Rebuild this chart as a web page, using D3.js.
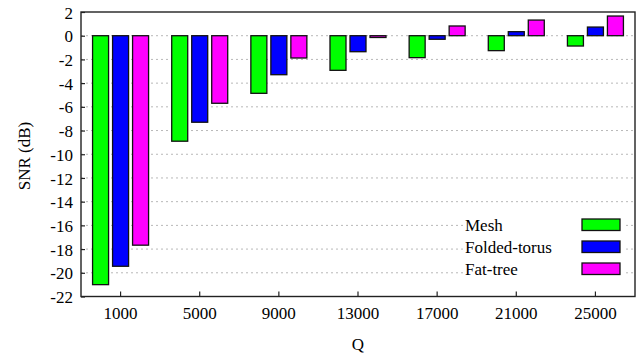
<!DOCTYPE html>
<html>
<head>
<meta charset="utf-8">
<script src="https://cdn.jsdelivr.net/npm/d3@7"></script>
<style>
  body { margin: 0; background: #fff; }
  svg text { font-family: "Liberation Serif", "Times New Roman", Times, "Tinos", "DejaVu Serif", "Noto Serif", serif !important; }
</style>
</head>
<body>
<svg id="chart" width="639" height="358"></svg>
<script>
// chart data
const categories = ['1000', '5000', '9000', '13000', '17000', '21000', '25000'];
const seriesNames = ['Mesh', 'Folded-torus', 'Fat-tree'];
const mesh = [-21.0, -8.9, -4.86, -2.92, -1.85, -1.26, -0.87];
const foldedTorus = [-19.45, -7.3, -3.29, -1.35, -0.3, 0.34, 0.73];
const fatTree = [-17.67, -5.7, -1.88, -0.15, 0.82, 1.32, 1.66];
const yTicks = [2, 0, -2, -4, -6, -8, -10, -12, -14, -16, -18, -20, -22];
const colors = ['#00ff00', '#0000ff', '#ff00ff'];

const allSeries = [mesh, foldedTorus, fatTree];

const svg = d3.select('#chart'),
    margin = {top: 12, right: 4, bottom: 61.5, left: 81},
    width = +svg.attr('width') - margin.left - margin.right,
    height = +svg.attr('height') - margin.top - margin.bottom;

const x0 = d3.scaleBand().domain(categories).range([0, width]).padding(0);
const x1 = d3.scaleBand().domain(seriesNames).range([0, 56]).paddingInner(0.2).paddingOuter(0);
const y = d3.scaleLinear().domain([-22, 2]).range([height, 0]);

const g = svg.append('g').attr('transform', 'translate(' + margin.left + ',' + margin.top + ')');

// grid lines
g.append('g')
    .selectAll('line')
    .data(yTicks.filter(d => d > -22 && d < 2))
    .enter().append('line')
    .attr('x1', 0).attr('x2', width)
    .attr('y1', d => y(d)).attr('y2', d => y(d))
    .attr('stroke', '#b8b8b8')
    .attr('stroke-width', 1)
    .attr('stroke-dasharray', '2,3');

// bars
const groups = g.append('g')
    .selectAll('g')
    .data(categories)
    .enter().append('g')
    .attr('transform', d => 'translate(' + (x0(d) + x0.bandwidth() / 2 - 28) + ',0)');

groups.selectAll('rect')
    .data((d, i) => seriesNames.map((s, k) => ({s: s, k: k, v: allSeries[k][i]})))
    .enter().append('rect')
    .attr('x', d => x1(d.s))
    .attr('y', d => y(Math.max(0, d.v)))
    .attr('width', x1.bandwidth())
    .attr('height', d => Math.abs(y(d.v) - y(0)))
    .attr('fill', d => colors[d.k])
    .attr('stroke', '#111')
    .attr('stroke-width', 1.3);

// axes
g.append('g')
    .attr('transform', 'translate(0,' + height + ')')
    .call(d3.axisBottom(x0).tickSize(-5).tickPadding(10).tickSizeOuter(0))
    .call(a => a.select('.domain').remove())
    .call(a => a.selectAll('line').attr('stroke', '#222').attr('stroke-width', 1.2))
    .call(a => a.selectAll('text').attr('font-size', 17).attr('fill', '#000'));

g.append('g')
    .call(d3.axisLeft(y).tickValues(yTicks).tickFormat(d3.format('d')).tickSize(-4).tickPadding(8).tickSizeOuter(0))
    .call(a => a.select('.domain').remove())
    .call(a => a.selectAll('line').attr('stroke', '#222').attr('stroke-width', 1.2))
    .call(a => a.selectAll('text').attr('font-size', 17).attr('fill', '#000').attr('dy', '0.36em'))
    .call(a => a.selectAll('text').text(d => d < 0 ? '-' + Math.abs(d) : d));

// border
g.append('rect')
    .attr('x', 0).attr('y', 0)
    .attr('width', width).attr('height', height)
    .attr('fill', 'none')
    .attr('stroke', '#222')
    .attr('stroke-width', 1.4);

// legend
const legend = g.append('g').attr('transform', 'translate(' + (465 - margin.left) + ',' + (213 - margin.top) + ')');
legend.append('rect')
    .attr('x', -2).attr('y', 0).attr('width', 160).attr('height', 66)
    .attr('fill', '#fff');
const items = legend.selectAll('g')
    .data(seriesNames)
    .enter().append('g')
    .attr('transform', (d, i) => 'translate(0,' + (i * 22) + ')');
items.append('text')
    .attr('x', 0).attr('y', 17.5)
    .attr('font-size', 17)
    .text(d => d);
items.append('rect')
    .attr('x', 117).attr('y', 6)
    .attr('width', 38).attr('height', 11.5)
    .attr('fill', (d, i) => colors[i])
    .attr('stroke', '#111')
    .attr('stroke-width', 1.3);

// axis titles
svg.append('text')
    .attr('transform', 'translate(30,156) rotate(-90)')
    .attr('text-anchor', 'middle')
    .attr('font-size', 17)
    .text('SNR (dB)');

svg.append('text')
    .attr('x', margin.left + width / 2)
    .attr('y', 350)
    .attr('text-anchor', 'middle')
    .attr('font-size', 17)
    .text('Q');
</script>
</body>
</html>
